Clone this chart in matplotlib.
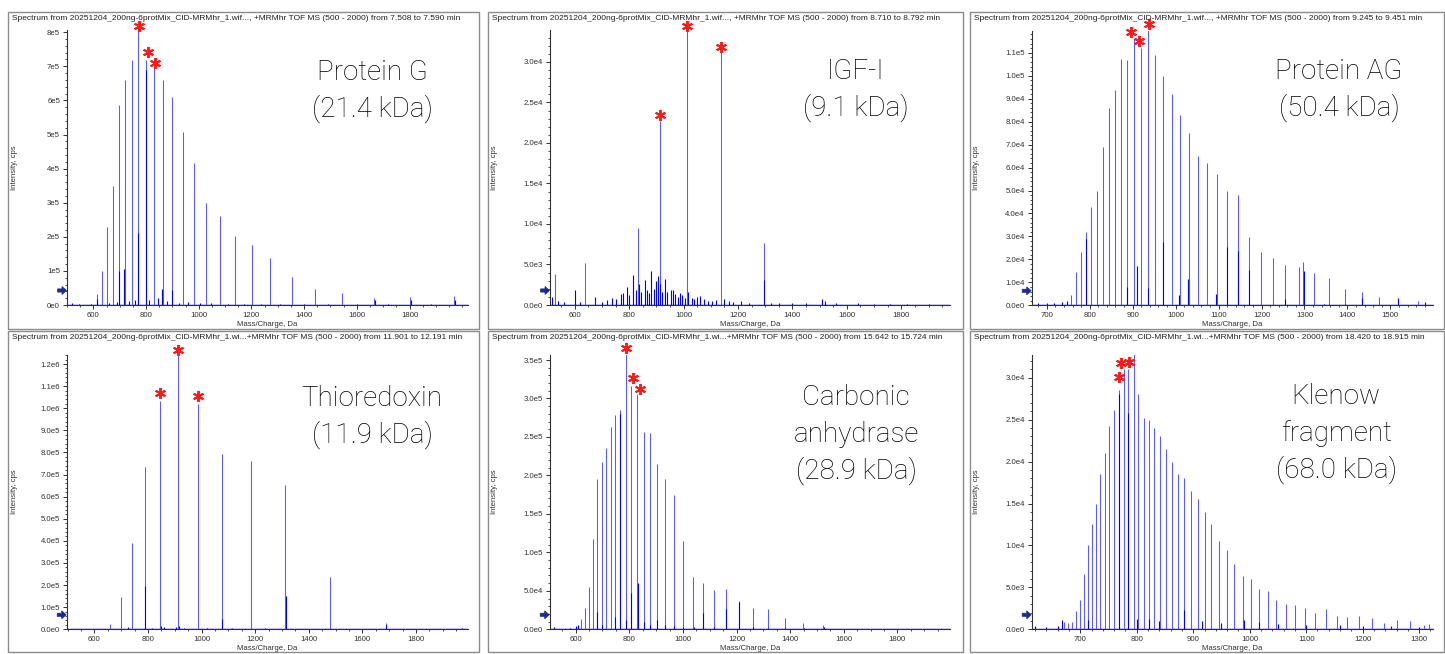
import matplotlib
matplotlib.use("Agg")
import numpy as np
import matplotlib.pyplot as plt
from matplotlib.ticker import MultipleLocator, AutoMinorLocator, FuncFormatter, FixedLocator
from matplotlib.patches import Rectangle, Polygon

# ---------------- data ----------------
titles = [
    "Spectrum from 20251204_200ng-6protMix_CID-MRMhr_1.wif..., +MRMhr TOF MS (500 - 2000) from 7.508 to 7.590 min",
    "Spectrum from 20251204_200ng-6protMix_CID-MRMhr_1.wif..., +MRMhr TOF MS (500 - 2000) from 8.710 to 8.792 min",
    "Spectrum from 20251204_200ng-6protMix_CID-MRMhr_1.wif..., +MRMhr TOF MS (500 - 2000) from 9.245 to 9.451 min",
    "Spectrum from 20251204_200ng-6protMix_CID-MRMhr_1.wi...+MRMhr TOF MS (500 - 2000) from 11.901 to 12.191 min",
    "Spectrum from 20251204_200ng-6protMix_CID-MRMhr_1.wi...+MRMhr TOF MS (500 - 2000) from 15.642 to 15.724 min",
    "Spectrum from 20251204_200ng-6protMix_CID-MRMhr_1.wi...+MRMhr TOF MS (500 - 2000) from 18.420 to 18.915 min",
]
protein_labels = ["Protein G\n(21.4 kDa)", "IGF-I\n(9.1 kDa)", "Protein AG\n(50.4 kDa)",
                  "Thioredoxin\n(11.9 kDa)", "Carbonic\nanhydrase\n(28.9 kDa)", "Klenow\nfragment\n(68.0 kDa)"]

# x tick labels shown on each panel
xticks_pg = [600, 800, 1000, 1200, 1400, 1600, 1800]
xticks_igf = [600, 800, 1000, 1200, 1400, 1600, 1800]
xticks_pag = [700, 800, 900, 1000, 1100, 1200, 1300, 1400, 1500]
xticks_trx = [600, 800, 1000, 1200, 1400, 1600, 1800]
xticks_ca = [600, 800, 1000, 1200, 1400, 1600, 1800]
xticks_kl = [700, 800, 900, 1000, 1100, 1200, 1300]

# Protein G
pg_mz = [615, 634, 653, 676, 697.5, 720, 745.7, 770.8, 800, 829, 863.4, 898.7, 939, 983, 1029, 1081,
         1139, 1201, 1271, 1353, 1442, 1545.5, 1666, 1802.5, 1969.6]
pg_int = [3.2e4, 1.0e5, 2.3e5, 3.5e5, 5.87e5, 6.6e5, 7.18e5, 8.16e5, 7.18e5, 6.94e5, 6.6e5, 6.1e5, 5.07e5,
          4.16e5, 3.0e5, 2.6e5, 2.02e5, 1.76e5, 1.39e5, 8.3e4, 4.7e4, 3.6e4, 2.1e4, 2.2e4, 2.7e4]
pg_sub_mz = [520, 545, 590, 613, 660, 688, 696, 718, 735, 758, 769, 798, 812, 845, 862, 880, 900, 925, 960,
             1005, 1048, 1110, 1170, 1237, 1310, 1400, 1490, 1600, 1668, 1720, 1805, 1880, 1972]
pg_sub_int = [5e3, 4e3, 3e3, 1.8e4, 6e3, 8e3, 1.0e5, 1.05e5, 1.2e4, 1.5e4, 2.1e5, 6.9e5, 1.5e4, 2e4, 4.8e4,
              1.2e4, 4.3e4, 6e3, 8e3, 5e3, 6e3, 4e3, 4e3, 3e3, 4e3, 3e3, 3e3, 2e3, 1.4e4, 2e3, 1.4e4, 2e3, 1.6e4]
pg_star_mz = [774.6, 806.5, 834]
pg_star_int = [8.18e5, 7.43e5, 7.09e5]

# IGF-I
igf_mz = [527.6, 636.7, 833.7, 913.4, 1013.7, 1136.4, 1295.5]
igf_int = [3.8e3, 5.14e3, 9.5e3, 2.27e4, 3.42e4, 3.12e4, 7.6e3]
igf_sub_mz = [515, 540, 560, 601, 620, 674.6, 700, 720, 736, 750, 771, 778.6, 791, 800, 814, 824, 835, 845,
              857, 865, 872, 881.5, 890, 898.7, 905, 915, 922, 930.7, 940, 952.7, 960, 970, 978, 987, 995,
              1005, 1017.4, 1030, 1040, 1050.5, 1060, 1075, 1090, 1105, 1120, 1148.6, 1165, 1180, 1212, 1240,
              1297, 1320, 1350, 1400, 1450, 1509.8, 1520, 1560, 1640, 1700, 1760, 1820, 1900]
igf_sub_int = [1.0e3, 0.5e3, 0.4e3, 1.85e3, 0.4e3, 1.0e3, 0.4e3, 0.6e3, 0.9e3, 0.8e3, 1.3e3, 1.5e3, 2.26e3,
               1.2e3, 3.66e3, 1.85e3, 2.6e3, 1.6e3, 3.1e3, 1.8e3, 1.5e3, 4.24e3, 2.0e3, 3.0e3, 3.55e3, 2.6e3,
               1.6e3, 3.2e3, 1.6e3, 1.8e3, 1.9e3, 1.3e3, 1.0e3, 1.5e3, 1.2e3, 0.9e3, 1.6e3, 0.9e3, 0.8e3,
               1.0e3, 1.1e3, 0.7e3, 0.5e3, 0.5e3, 0.6e3, 0.8e3, 0.5e3, 0.4e3, 0.45e3, 0.3e3, 3.1e3, 0.3e3,
               0.25e3, 0.2e3, 0.2e3, 0.7e3, 0.5e3, 0.2e3, 0.2e3, 0.15e3, 0.15e3, 0.15e3, 0.15e3]
igf_star_mz = [913.4, 1013.7, 1138.6]
igf_star_int = [2.35e4, 3.44e4, 3.19e4]

# Protein AG
pag_mz = [757.3, 769, 780.6, 791.5, 803, 816.4, 830.4, 844.4, 858.3, 873, 887.7, 902.6, 918.9, 935.9, 952.2,
          971.5, 991, 1010.4, 1030.6, 1051.6, 1072.5, 1095.8, 1119.8, 1144.7, 1170.3, 1198.3, 1226.2, 1255.5,
          1287.4, 1296, 1321.6, 1356.6, 1394.5, 1434, 1474.4, 1518.6, 1565]
pag_int = [4.5e3, 1.46e4, 2.3e4, 3.2e4, 4.3e4, 5.0e4, 6.9e4, 8.58e4, 9.36e4, 1.073e5, 1.067e5, 1.16e5, 1.12e5,
           1.2e5, 1.09e5, 1.0e5, 9.2e4, 8.3e4, 7.5e4, 6.5e4, 6.2e4, 5.7e4, 5.0e4, 4.8e4, 2.96e4, 2.33e4,
           2.07e4, 1.75e4, 1.68e4, 1.9e4, 1.42e4, 1.17e4, 7.1e3, 5.7e3, 3.5e3, 2.7e3, 2.0e3]
pag_sub_mz = [680, 700, 718, 735, 748, 791, 887, 910, 935, 970, 1009, 1030, 1095, 1119, 1144.6, 1170, 1255,
              1300, 1345, 1395, 1434, 1518, 1580]
pag_sub_int = [1.0e3, 0.8e3, 1.2e3, 1.5e3, 1.8e3, 2.9e4, 0.8e4, 1.7e4, 0.75e4, 2.77e4, 0.45e4, 1.15e4, 0.5e4,
               2.55e4, 2.35e4, 1.55e4, 0.28e4, 1.5e4, 0.5e3, 0.6e3, 0.3e4, 0.3e4, 1.5e3]
pag_star_mz = [896.5, 915.6, 937.5]
pag_star_int = [1.192e5, 1.152e5, 1.225e5]

# Thioredoxin
trx_mz = [658.6, 698.5, 741.7, 790.2, 846.2, 911.1, 986.8, 1075.2, 1183.4, 1312.5, 1478, 1688]
trx_int = [2.2e4, 1.45e5, 3.9e5, 7.35e5, 1.035e6, 1.255e6, 1.02e6, 7.95e5, 7.6e5, 6.55e5, 2.35e5, 2.8e4]
trx_sub_mz = [520, 560, 600, 640, 680, 724.5, 760, 789, 815, 848, 860, 905, 915, 935, 960, 1020, 1076, 1112.5,
              1150, 1236.8, 1280, 1314, 1400, 1510, 1590, 1690, 1760, 1830, 1900, 1970.5]
trx_sub_int = [3e3, 2e3, 2e3, 2e3, 2e3, 9e3, 3e3, 1.96e5, 4e3, 1.5e4, 1.2e4, 1.0e4, 1.5e4, 6e3, 3e3, 4e3,
               4.5e4, 6e3, 3e3, 4.5e3, 2e3, 1.52e5, 2e3, 2e3, 2e3, 2e4, 2e3, 3e3, 3e3, 8e3]
trx_star_mz = [846.2, 911.1, 985.7]
trx_star_int = [1.0706e6, 1.264e6, 1.057e6]

# Carbonic anhydrase
ca_mz = [618.7, 633.6, 649.6, 664.6, 680.7, 697, 713, 730.5, 747.8, 766.5, 786.6, 806.4, 830, 855, 879, 904.5,
         934, 966.8, 1000, 1037.7, 1075, 1116, 1161, 1209, 1261.6, 1317.6, 1380, 1448, 1523]
ca_int = [1.4e4, 2.8e4, 5.5e4, 1.17e5, 1.95e5, 2.17e5, 2.35e5, 2.63e5, 2.79e5, 2.85e5, 3.58e5, 3.16e5, 3.06e5,
          2.57e5, 2.55e5, 2.15e5, 1.95e5, 1.75e5, 1.15e5, 6.75e4, 6.05e4, 5.1e4, 5.25e4, 3.7e4, 2.8e4, 2.6e4,
          1.5e4, 7.8e3, 5.6e3]
ca_sub_mz = [520, 580, 600, 610, 681, 700, 747.5, 766, 786, 806, 831, 855, 878, 904.5, 934, 967, 1000, 1040,
             1076, 1116, 1162, 1210, 1262, 1318, 1380, 1450, 1525, 1600, 1640, 1720, 1810, 1880, 1950]
ca_sub_int = [3e3, 2e3, 4e3, 5e3, 2.2e4, 6e3, 1.56e4, 2.8e5, 1.2e4, 4.7e4, 6e4, 9e3, 5e3, 1.2e4, 5e3, 4e3,
              3e3, 3e3, 2.1e4, 3e3, 2.7e4, 3.5e4, 3e3, 2e3, 2e3, 2e3, 3e3, 1e3, 1e3, 1e3, 1e3, 1e3, 1e3]
ca_star_mz = [786.6, 814, 840]
ca_star_int = [3.652e5, 3.262e5, 3.123e5]

# Klenow fragment
kl_mz = [670.6, 679, 685, 692, 699.5, 706, 713, 720, 727, 735, 743, 751.3, 759, 768, 777, 785, 794.5, 803, 813,
         822, 831, 841, 851, 862, 873, 884, 896, 908, 920, 932, 945, 959, 972.6, 989, 1003, 1017, 1031.7, 1046,
         1064, 1080.6, 1098, 1115, 1135, 1154, 1173, 1194, 1215.7, 1237, 1260, 1283.6, 1309, 1317]
kl_int = [0.9e3, 0.8e3, 0.9e3, 2.2e3, 3.5e3, 6.6e3, 1.0e4, 1.25e4, 1.5e4, 1.85e4, 2.1e4, 2.42e4, 2.62e4, 2.85e4,
          3.1e4, 3.1e4, 3.28e4, 2.81e4, 2.52e4, 2.5e4, 2.4e4, 2.3e4, 2.15e4, 2.0e4, 1.85e4, 1.8e4, 1.65e4,
          1.55e4, 1.4e4, 1.25e4, 1.05e4, 9.5e3, 7.8e3, 6.4e3, 6.0e3, 4.8e3, 4.6e3, 3.5e3, 3.0e3, 2.9e3, 2.5e3,
          2.0e3, 2.4e3, 1.6e3, 1.5e3, 1.6e3, 1.3e3, 0.8e3, 1.05e3, 0.95e3, 0.55e3, 0.6e3]
kl_sub_mz = [620, 640, 660, 668, 714, 768, 785, 800, 822, 840, 884, 915, 950, 990, 1017, 1050, 1100, 1160,
             1200, 1250, 1300]
kl_sub_int = [4e2, 3e2, 4e2, 1.1e3, 1.1e3, 2.8e4, 2.58e4, 1.2e3, 1.2e3, 1.0e3, 2.3e3, 1.0e3, 8e2, 1.1e3, 9e2,
              6e2, 5e2, 5e2, 4e2, 4e2, 3e2]
kl_star_mz = [768, 772.6, 785.7]
kl_star_int = [3.012e4, 3.172e4, 3.184e4]

xlims = [(500, 2022), (509, 1979), (665, 1598.5), (497, 1993), (503, 1996.6), (614, 1324)]
ylims = [8.065e5, 3.395e4, 1.196e5, 1.241e6, 3.565e5, 3.271e4]
y_major = [1e5, 5e3, 1e4, 1e5, 5e4, 5e3]
x_minor_step = [50, 50, 20, 50, 50, 20]
y_decimals = [0, 1, 1, 1, 1, 1]
xticks_all = [xticks_pg, xticks_igf, xticks_pag, xticks_trx, xticks_ca, xticks_kl]

spectra = [
    (pg_mz, pg_int, pg_sub_mz, pg_sub_int, pg_star_mz, pg_star_int),
    (igf_mz, igf_int, igf_sub_mz, igf_sub_int, igf_star_mz, igf_star_int),
    (pag_mz, pag_int, pag_sub_mz, pag_sub_int, pag_star_mz, pag_star_int),
    (trx_mz, trx_int, trx_sub_mz, trx_sub_int, trx_star_mz, trx_star_int),
    (ca_mz, ca_int, ca_sub_mz, ca_sub_int, ca_star_mz, ca_star_int),
    (kl_mz, kl_int, kl_sub_mz, kl_sub_int, kl_star_mz, kl_star_int),
]

# ---------------- layout (pixels) ----------------
W, H = 1445, 654
fig = plt.figure(figsize=(W / 100, H / 100), dpi=100)
fig.patch.set_facecolor("white")

def fx(px):
    return px / W

def fy(py):
    return 1 - py / H

axes_px = [(67, 30, 468, 305), (550, 30, 950, 305), (1031.7, 30.7, 1432.7, 305.3),
           (66.7, 355, 467.7, 629.3), (549.7, 355, 950, 629.3), (1031.7, 355, 1432.7, 629.3)]
frames_px = [(8, 12, 479, 329), (488, 12, 963, 329), (970, 12, 1444, 329),
             (8, 331, 479, 652), (488, 331, 963, 652), (970, 331, 1444, 652)]
label_pos = [(372, 80), (856, 79), (1339, 79), (372, 406), (856, 405), (1336, 404)]

FONT = "Liberation Sans"
BIG_FONT = "Roboto"
BLUE_MAIN = "#5a5aff"
BLUE_DARK = "#0000ee"

def make_fmt(dec):
    def f(v, pos):
        if abs(v) < 1e-9:
            return "0e0" if dec == 0 else "0.0e0"
        e = int(np.floor(np.log10(abs(v)) + 1e-9))
        m = v / 10 ** e
        return f"{m:.{dec}f}e{e}"
    return f

for i in range(6):
    l, t, r, b = axes_px[i]
    ax = fig.add_axes([fx(l), fy(b), fx(r - l), (b - t) / H])
    mz, inten, smz, sint, stmz, stint = spectra[i]
    ax.axhline(0, color=BLUE_DARK, lw=1.0, zorder=2)
    ax.vlines(mz, 0, inten, color=BLUE_MAIN, lw=0.75, zorder=3)
    ax.vlines(smz, 0, sint, color=BLUE_DARK, lw=0.8, zorder=4)
    ax.plot(stmz, stint, linestyle="none", marker=(6, 2, 0), ms=8, mew=1.4,
            color="#ff1a1a", clip_on=False, zorder=6)
    ax.set_xlim(*xlims[i])
    ax.set_ylim(0, ylims[i])
    for s in ["top", "right"]:
        ax.spines[s].set_visible(False)
    for s in ["left", "bottom"]:
        ax.spines[s].set_color("#303030")
        ax.spines[s].set_linewidth(0.8)
    ax.xaxis.set_major_locator(FixedLocator(xticks_all[i]))
    ax.xaxis.set_minor_locator(MultipleLocator(x_minor_step[i]))
    ax.yaxis.set_major_locator(MultipleLocator(y_major[i]))
    ax.yaxis.set_minor_locator(AutoMinorLocator(5))
    ax.yaxis.set_major_formatter(FuncFormatter(make_fmt(y_decimals[i])))
    ax.tick_params(axis="both", which="major", length=3, width=0.7, color="#303030",
                   labelsize=5.6, labelcolor="#303030", pad=2)
    ax.tick_params(axis="both", which="minor", length=1.5, width=0.6, color="#303030")
    for lab in ax.get_xticklabels() + ax.get_yticklabels():
        lab.set_fontfamily(FONT)
    ax.patch.set_alpha(0)
    ax.set_xlabel("Mass/Charge, Da", fontsize=5.6, family=FONT, color="#303030", labelpad=1.5)

    # frame of panel
    fl, ft, fr, fb = frames_px[i]
    fig.add_artist(Rectangle((fx(fl), fy(fb)), fx(fr - fl), (fb - ft) / H, transform=fig.transFigure,
                             fill=False, edgecolor="#8c8c8c", lw=1.0))
    # title
    fig.text(fx(fl + 3.5), fy(ft + 6.3), titles[i], fontsize=6.0, family=FONT, color="#202020",
             ha="left", va="center")
    # y label
    fig.text(fx(fl + 6.5), fy((t + b) / 2), "Intensity, cps", fontsize=5.6, family=FONT,
             color="#303030", rotation=90, ha="center", va="center")
    # threshold arrow
    ax_x, ax_y = l - 5, b - 14.5
    arrow = [(ax_x - 4.5, ax_y - 1.6), (ax_x, ax_y - 1.6), (ax_x, ax_y - 4), (ax_x + 4.5, ax_y),
             (ax_x, ax_y + 4), (ax_x, ax_y + 1.6), (ax_x - 4.5, ax_y + 1.6)]
    fig.add_artist(Polygon([(fx(a), fy(c)) for a, c in arrow], closed=True, transform=fig.transFigure,
                           facecolor="#1a2b8c", edgecolor="#1a2b8c", lw=0.5))
    # protein label
    cx, by = label_pos[i]
    lines = protein_labels[i].split("\n")
    for k, line in enumerate(lines):
        fig.text(fx(cx), fy(by + 37 * k), line, fontsize=20, family=BIG_FONT, fontweight="light",
                 color="#000000", ha="center", va="baseline")

fig.savefig("out.png", dpi=100, facecolor="white")
